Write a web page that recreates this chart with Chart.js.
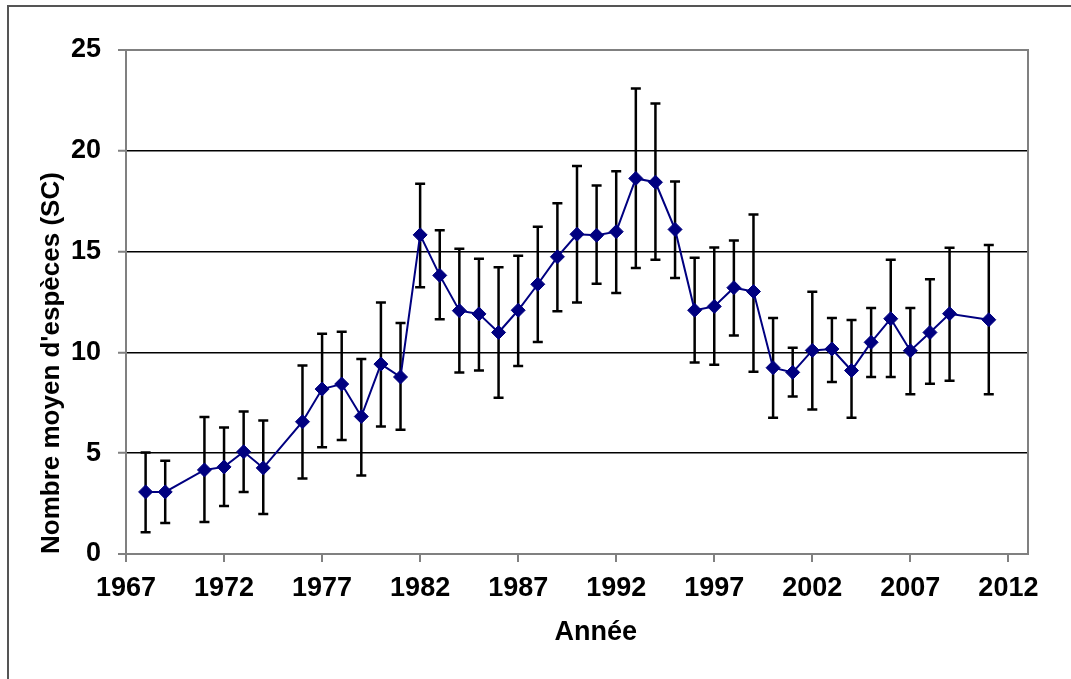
<!DOCTYPE html>
<html lang="fr">
<head>
<meta charset="utf-8">
<title>Nombre moyen d'espèces par année</title>
<script src="https://cdn.jsdelivr.net/npm/chart.js@4.4.1/dist/chart.umd.min.js"></script>
<style>
  html, body { margin: 0; padding: 0; background: #ffffff; }
  #wrap { position: relative; width: 1071px; height: 679px; }
</style>
</head>
<body>
<div id="wrap"><canvas id="chart" width="1071" height="679"></canvas></div>
<script>
// Years sampled
const years = [1968, 1969, 1971, 1972, 1973, 1974, 1976, 1977, 1978, 1979, 1980, 1981,
  1982, 1983, 1984, 1985, 1986, 1987, 1988, 1989, 1990, 1991, 1992, 1993, 1994, 1995,
  1996, 1997, 1998, 1999, 2000, 2001, 2002, 2003, 2004, 2005, 2006, 2007, 2008, 2009, 2011];

// Mean number of species (SC)
const means = [3.08, 3.08, 4.17, 4.32, 5.07, 4.27, 6.56, 8.18, 8.43, 6.82, 9.42, 8.78,
  15.83, 13.82, 12.07, 11.91, 10.99, 12.09, 13.38, 14.74, 15.86, 15.81, 15.99, 18.63, 18.44, 16.1,
  12.09, 12.28, 13.21, 13.02, 9.24, 9.01, 10.1, 10.17, 9.1, 10.5, 11.67, 10.08, 10.99, 11.92, 11.62];

// Upper end of each error bar
const upper = [5.03, 4.63, 6.79, 6.27, 7.07, 6.62, 9.35, 10.93, 11.03, 9.67, 12.48, 11.46,
  18.37, 16.06, 15.14, 14.64, 14.22, 14.8, 16.23, 17.4, 19.24, 18.28, 18.99, 23.09, 22.35, 18.48,
  14.69, 15.2, 15.55, 16.84, 11.71, 10.23, 13.01, 11.71, 11.61, 12.2, 14.59, 12.2, 13.63, 15.19, 15.33];

// Lower end of each error bar
const lower = [1.08, 1.54, 1.59, 2.38, 3.07, 1.99, 3.74, 5.3, 5.66, 3.89, 6.32, 6.16,
  13.23, 11.64, 9.0, 9.1, 7.75, 9.32, 10.52, 12.04, 12.48, 13.4, 12.95, 14.19, 14.6, 13.69,
  9.5, 9.39, 10.84, 9.04, 6.76, 7.81, 7.17, 8.53, 6.76, 8.78, 8.78, 7.93, 8.45, 8.59, 7.93];

// Axis ticks
const xTicks = [1967, 1972, 1977, 1982, 1987, 1992, 1997, 2002, 2007, 2012];
const yTicks = [0, 5, 10, 15, 20, 25];

const NAVY = '#000080';
const FRAME_GREY = '#808080';
const FONT = "'Liberation Sans', Arial, sans-serif";

// Page frame plus top/right edges of the plot box
const framePlugin = {
  id: 'frame',
  beforeDraw(chart) {
    const ctx = chart.ctx;
    ctx.save();
    ctx.fillStyle = '#ffffff';
    ctx.fillRect(0, 0, chart.width, chart.height);
    ctx.strokeStyle = '#555555';
    ctx.lineWidth = 2;
    ctx.beginPath();
    ctx.moveTo(8, chart.height);
    ctx.lineTo(8, 6);
    ctx.lineTo(chart.width, 6);
    ctx.stroke();
    ctx.restore();
  },
  beforeDatasetsDraw(chart) {
    const {ctx, chartArea} = chart;
    ctx.save();
    ctx.strokeStyle = FRAME_GREY;
    ctx.lineWidth = 2;
    ctx.beginPath();
    ctx.moveTo(chartArea.left, chartArea.top);
    ctx.lineTo(chartArea.right, chartArea.top);
    ctx.lineTo(chartArea.right, chartArea.bottom);
    ctx.stroke();
    ctx.restore();
  }
};

// Vertical error bars with caps, drawn under the series
const errorBarPlugin = {
  id: 'errorBars',
  beforeDatasetsDraw(chart) {
    const {ctx, scales} = chart;
    const xs = scales.x, ys = scales.y;
    const cap = 5;
    ctx.save();
    ctx.strokeStyle = '#000000';
    ctx.lineWidth = 2.5;
    ctx.lineCap = 'butt';
    years.forEach((yr, i) => {
      const x = xs.getPixelForValue(yr);
      const yt = ys.getPixelForValue(upper[i]);
      const yb = ys.getPixelForValue(lower[i]);
      ctx.beginPath();
      ctx.moveTo(x, yt); ctx.lineTo(x, yb);
      ctx.moveTo(x - cap, yt); ctx.lineTo(x + cap, yt);
      ctx.moveTo(x - cap, yb); ctx.lineTo(x + cap, yb);
      ctx.stroke();
    });
    ctx.restore();
  }
};

new Chart(document.getElementById('chart'), {
  type: 'line',
  data: {
    datasets: [{
      label: "Nombre moyen d'espèces (SC)",
      data: years.map((yr, i) => ({x: yr, y: means[i]})),
      borderColor: NAVY,
      backgroundColor: NAVY,
      borderWidth: 2,
      pointStyle: 'rectRot',
      pointRadius: 7,
      pointBorderWidth: 1,
      pointBorderColor: NAVY,
      pointBackgroundColor: NAVY,
      tension: 0,
      fill: false
    }]
  },
  options: {
    responsive: false,
    animation: false,
    events: [],
    layout: { padding: { left: 0, right: 43, top: 50, bottom: 0 } },
    plugins: {
      legend: { display: false },
      tooltip: { enabled: false }
    },
    scales: {
      x: {
        type: 'linear',
        min: 1967,
        max: 2013,
        afterBuildTicks(axis) { axis.ticks = xTicks.map(v => ({ value: v })); },
        afterFit(axis) { axis.height = 125; },
        grid: {
          drawOnChartArea: false,
          drawTicks: true,
          tickLength: 8,
          color: FRAME_GREY,
          lineWidth: 2
        },
        border: { display: true, color: FRAME_GREY, width: 2 },
        ticks: {
          autoSkip: false,
          maxRotation: 0,
          padding: 10,
          color: '#000000',
          font: { family: FONT, size: 27, weight: 'bold' },
          callback: v => String(v)
        },
        title: {
          display: true,
          text: '\u00a0\u00a0\u00a0\u00a0\u00a0Année',
          color: '#000000',
          font: { family: FONT, size: 27, weight: 'bold' },
          padding: { top: 0, bottom: 30 }
        }
      },
      y: {
        min: 0,
        max: 25,
        afterBuildTicks(axis) { axis.ticks = yTicks.map(v => ({ value: v })); },
        afterFit(axis) { axis.width = 126; },
        grid: {
          drawOnChartArea: true,
          drawTicks: true,
          tickLength: 8,
          color: ctx => (ctx.tick && (ctx.tick.value === 0 || ctx.tick.value === 25)) ? FRAME_GREY : '#000000',
          lineWidth: ctx => (ctx.tick && (ctx.tick.value === 0 || ctx.tick.value === 25)) ? 2 : 1.5,
          tickColor: FRAME_GREY,
          tickWidth: 2
        },
        border: { display: true, color: FRAME_GREY, width: 2 },
        ticks: {
          padding: 17,
          color: '#000000',
          font: { family: FONT, size: 27, weight: 'bold' }
        },
        title: {
          display: true,
          align: 'start',
          text: "Nombre moyen d'espèces (SC)",
          color: '#000000',
          font: { family: FONT, size: 26, weight: 'bold' },
          padding: { top: 36, bottom: 0 }
        }
      }
    }
  },
  plugins: [framePlugin, errorBarPlugin]
});
</script>
</body>
</html>
